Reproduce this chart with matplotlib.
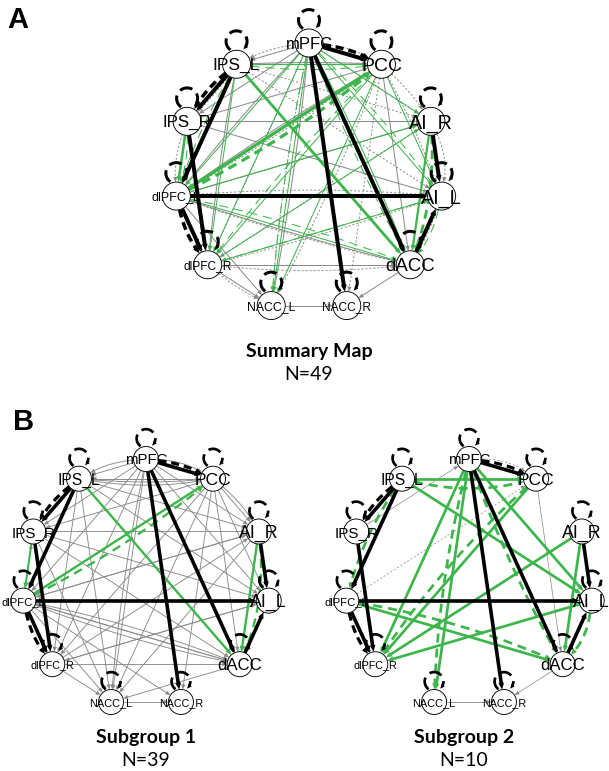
import numpy as np
import matplotlib.pyplot as plt
from matplotlib.patches import Circle, Polygon

plt.rcParams['font.family'] = ['Liberation Sans', 'DejaVu Sans']
plt.rcParams['lines.scale_dashes'] = False

PX = 0.72  # points per pixel (dpi 100)

nodes = ['mPFC', 'PCC', 'AI_R', 'AI_L', 'dACC', 'NACC_R', 'NACC_L',
         'dlPFC_R', 'dlPFC_L', 'IPS_R', 'IPS_L']
label_pt = [12.0, 14.0, 14.2, 14.2, 13.4, 8.6, 8.8, 8.6, 9.0, 12.2, 12.5]

# group-level paths (same in every map)
group_paths = [('mPFC', 'PCC'), ('IPS_L', 'dlPFC_L'), ('IPS_L', 'IPS_R'),
               ('IPS_R', 'dlPFC_R'), ('dlPFC_L', 'AI_L'), ('dlPFC_L', 'dlPFC_R'),
               ('mPFC', 'dACC'), ('mPFC', 'NACC_R'), ('AI_R', 'AI_L'), ('dACC', 'AI_L')]
group_lagged = [('mPFC', 'PCC', 0.08), ('IPS_L', 'IPS_R', 0.09), ('dlPFC_L', 'dlPFC_R', 0.10)]

# (source, target, width px, style, bend)
summary_green = [
    ('IPS_L', 'dACC', 2.8, '-', 0), ('dlPFC_L', 'PCC', 3.2, '-', 0),
    ('dlPFC_L', 'PCC', 3.2, '--', -0.05), ('IPS_R', 'dlPFC_L', 2.6, '-', 0),
    ('AI_R', 'dACC', 2.2, '-', 0), ('AI_R', 'dACC', 2.8, '--', 0.1),
    ('mPFC', 'dlPFC_L', 1, '-', 0), ('mPFC', 'dlPFC_R', 1, '-', 0),
    ('mPFC', 'NACC_L', 1, '-', 0), ('mPFC', 'AI_L', 1, '-', 0),
    ('mPFC', 'AI_R', 1, '-', 0), ('mPFC', 'dACC', 1, '-', 0.03),
    ('PCC', 'dlPFC_R', 1, '-', 0), ('PCC', 'NACC_L', 1, '-', 0),
    ('IPS_L', 'PCC', 1.2, '-', 0), ('dlPFC_L', 'dACC', 1, '-', 0),
    ('dlPFC_L', 'AI_R', 1, '-', 0), ('dlPFC_R', 'AI_R', 1, '-', 0),
    ('AI_L', 'dlPFC_R', 1, '-', 0), ('IPS_L', 'dlPFC_R', 1, '-', 0),
    ('PCC', 'AI_L', 1, '-', 0),
    ('mPFC', 'dACC', 1, '--', -0.03), ('dlPFC_L', 'dACC', 1, '--', -0.04),
    ('AI_L', 'dACC', 1, '--', 0.1), ('IPS_L', 'PCC', 1, '--', -0.06),
    ('IPS_R', 'dlPFC_L', 1, '--', -0.08), ('dlPFC_R', 'AI_L', 1, '--', 0),
    ('IPS_L', 'dlPFC_L', 1, '--', 0.05), ('PCC', 'dlPFC_R', 1, '--', 0.03),
    ('mPFC', 'AI_L', 1, '--', 0.04), ('mPFC', 'NACC_L', 1, '--', 0.03)]
summary_gray = [
    ('mPFC', 'IPS_L', 1, '-', 0), ('IPS_L', 'PCC', 1, '-', 0.02),
    ('IPS_R', 'AI_R', 1, '-', 0), ('IPS_R', 'PCC', 1, '-', 0),
    ('dlPFC_L', 'AI_R', 1, '-', 0), ('dlPFC_L', 'dACC', 1, '-', 0.02),
    ('dlPFC_R', 'dACC', 1, '-', 0), ('NACC_L', 'NACC_R', 1, '-', 0),
    ('dACC', 'NACC_R', 1, '-', 0), ('dlPFC_R', 'NACC_L', 1, '-', 0),
    ('dlPFC_L', 'NACC_L', 1, '-', 0), ('PCC', 'dACC', 1, '-', 0),
    ('mPFC', 'IPS_R', 1, '-', 0), ('IPS_L', 'dlPFC_R', 1, '-', 0.02),
    ('mPFC', 'NACC_L', 1, '-', -0.02), ('IPS_R', 'AI_L', 1, '-', 0),
    ('PCC', 'dlPFC_L', 1, '-', 0.02), ('mPFC', 'dlPFC_L', 1, '-', 0.02),
    ('mPFC', 'PCC', 1, ':', 0.1), ('PCC', 'AI_R', 1, ':', 0.05),
    ('AI_R', 'AI_L', 1, ':', 0.15), ('AI_L', 'dACC', 1, ':', 0.05),
    ('mPFC', 'IPS_L', 1, ':', 0.08), ('IPS_L', 'IPS_R', 1, ':', -0.05),
    ('dlPFC_R', 'NACC_L', 1, ':', 0.05), ('PCC', 'dlPFC_L', 1, ':', -0.02),
    ('mPFC', 'NACC_L', 1, ':', 0.03), ('dlPFC_L', 'AI_L', 1, ':', -0.04),
    ('dlPFC_R', 'AI_L', 1, ':', 0.02), ('AI_R', 'dlPFC_R', 1, ':', 0),
    ('PCC', 'NACC_R', 1, ':', 0), ('IPS_L', 'AI_R', 1, ':', 0),
    ('mPFC', 'AI_R', 1, ':', 0), ('PCC', 'AI_L', 1, ':', 0.03),
    ('IPS_L', 'AI_L', 1, ':', 0), ('dACC', 'dlPFC_L', 1, ':', 0.03),
    ('PCC', 'NACC_L', 1, ':', 0.03), ('IPS_R', 'dlPFC_L', 1, ':', 0.1),
    ('mPFC', 'dlPFC_R', 1, ':', 0), ('dlPFC_R', 'dACC', 1, ':', 0.05)]

sub1_green = [
    ('IPS_L', 'dACC', 2.6, '-', 0), ('dlPFC_L', 'PCC', 2.6, '-', 0),
    ('dlPFC_L', 'PCC', 2.6, '--', -0.05), ('IPS_R', 'dlPFC_L', 2.2, '-', 0),
    ('AI_R', 'dACC', 2.6, '-', 0), ('AI_R', 'dACC', 2.6, '--', 0.12)]
sub1_gray = [(a, b, 1, '-', 0) for a, b in [
    ('mPFC', 'IPS_L'), ('mPFC', 'IPS_R'), ('mPFC', 'dlPFC_L'), ('mPFC', 'dlPFC_R'),
    ('mPFC', 'NACC_L'), ('mPFC', 'AI_R'), ('mPFC', 'AI_L'), ('PCC', 'IPS_L'),
    ('PCC', 'IPS_R'), ('PCC', 'dlPFC_L'), ('PCC', 'dlPFC_R'), ('PCC', 'NACC_L'),
    ('PCC', 'dACC'), ('PCC', 'AI_R'), ('PCC', 'AI_L'), ('IPS_L', 'AI_R'),
    ('IPS_L', 'AI_L'), ('IPS_L', 'dlPFC_R'), ('IPS_L', 'NACC_L'), ('IPS_R', 'AI_R'),
    ('IPS_R', 'AI_L'), ('IPS_R', 'dACC'), ('dlPFC_L', 'AI_R'), ('dlPFC_L', 'dACC'),
    ('dlPFC_L', 'NACC_L'), ('dlPFC_L', 'NACC_R'), ('AI_L', 'dlPFC_L'),
    ('dlPFC_R', 'dACC'), ('dlPFC_R', 'NACC_L'), ('dlPFC_R', 'AI_R'), ('dlPFC_R', 'AI_L'),
    ('NACC_L', 'NACC_R'), ('dACC', 'NACC_L'), ('AI_R', 'NACC_L'), ('AI_R', 'dlPFC_L'),
    ('AI_L', 'dlPFC_R'), ('dACC', 'dlPFC_L'), ('PCC', 'NACC_R'), ('IPS_R', 'NACC_L'),
    ('mPFC', 'dACC'), ('IPS_L', 'PCC'), ('IPS_R', 'dlPFC_L'), ('AI_R', 'dACC'),
    ('AI_L', 'dACC'), ('dlPFC_L', 'IPS_R')]] + [
    ('IPS_L', 'PCC', 1, '-', -0.04), ('mPFC', 'NACC_L', 1, '-', 0.03),
    ('dlPFC_L', 'dACC', 1, '-', 0.04), ('mPFC', 'PCC', 1, '-', 0.12),
    ('mPFC', 'IPS_L', 1, '-', 0.1), ('PCC', 'AI_R', 1, '-', 0.08),
    ('dlPFC_L', 'dACC', 1, '-', -0.04), ('IPS_L', 'PCC', 1, '-', -0.08)]

sub2_green = [
    ('IPS_L', 'PCC', 3, '-', 0), ('IPS_L', 'AI_L', 3, '-', 0),
    ('IPS_L', 'dlPFC_L', 3, '-', 0), ('mPFC', 'dlPFC_R', 3, '-', 0),
    ('mPFC', 'NACC_L', 3, '-', 0), ('mPFC', 'AI_L', 3, '-', 0),
    ('PCC', 'dlPFC_R', 3, '-', 0), ('AI_R', 'dlPFC_R', 3, '-', 0),
    ('AI_L', 'dlPFC_R', 3, '-', 0), ('dlPFC_L', 'dACC', 3, '-', 0),
    ('AI_R', 'dACC', 3, '-', 0),
    ('IPS_L', 'PCC', 3, '--', -0.12), ('IPS_L', 'dlPFC_L', 3, '--', 0.08),
    ('mPFC', 'NACC_L', 3, '--', 0.05), ('mPFC', 'dACC', 3, '--', -0.04),
    ('dlPFC_L', 'dACC', 3, '--', -0.06), ('AI_L', 'dACC', 3, '--', 0.15),
    ('PCC', 'dlPFC_R', 3, '--', 0.06)]
sub2_gray = [
    ('mPFC', 'PCC', 0.8, ':', 0.15), ('IPS_R', 'mPFC', 0.8, '-', 0),
    ('dlPFC_L', 'PCC', 0.8, ':', 0), ('PCC', 'dACC', 0.8, '-', 0),
    ('AI_L', 'dlPFC_R', 0.8, ':', 0), ('dACC', 'NACC_R', 0.8, '-', 0),
    ('NACC_L', 'NACC_R', 1, '-', 0)]

GREEN = '#3cb54a'
GRAY = '#8a8a8a'


def layout(cx, cy, R):
    ang = np.deg2rad(90 - np.arange(len(nodes)) * 360 / len(nodes))
    return {n: np.array([cx + R * np.cos(a), cy - R * np.sin(a)]) for n, a in zip(nodes, ang)}


def head(ax, tip, u, lw, color, z):
    hl = 4.5 + 0.6 * lw
    hw = 0.42 * hl
    n = np.array([-u[1], u[0]])
    base = tip - u * hl
    ax.add_patch(Polygon([tip, base + n * hw, base - n * hw], closed=True,
                         fc=color, ec='none', zorder=z))
    return hl


def edge(ax, pos, center, rn, a, b, color, lw, style, bend, z):
    p0, p1 = pos[a], pos[b]
    d = p1 - p0
    L = np.hypot(*d)
    nrm = np.array([-d[1], d[0]]) / L
    mid = (p0 + p1) / 2
    if np.dot(mid - center, nrm) < 0:
        nrm = -nrm
    ctrl = mid + nrm * bend * L
    s = p0 + rn * (ctrl - p0) / np.linalg.norm(ctrl - p0)
    u = (p1 - ctrl) / np.linalg.norm(p1 - ctrl)
    e = p1 - rn * u
    hl = head(ax, e, u, lw, color, z)
    e2 = e - u * hl * 0.7
    t = np.linspace(0, 1, 40)[:, None]
    pts = (1 - t) ** 2 * s + 2 * (1 - t) * t * ctrl + t ** 2 * e2
    kw = dict(color=color, lw=lw * PX, zorder=z, solid_capstyle='butt')
    if style == '--':
        kw['dashes'] = (9 * PX, 6 * PX) if color == GREEN else (8 * PX, 5 * PX)
    elif style == ':':
        kw['dashes'] = (2 * PX, 2 * PX)
    ax.plot(pts[:, 0], pts[:, 1], **kw)


def loop(ax, p, rn, lw, z):
    rl = 0.75 * rn
    c = p + np.array([0, -(rn + 0.85 * rl)])
    phi = np.deg2rad(np.linspace(235, -50, 60))
    pts = c + rl * np.c_[np.cos(phi), -np.sin(phi)]
    ax.plot(pts[:-4, 0], pts[:-4, 1], color='black', lw=lw * PX,
            dashes=(13 * PX, 6 * PX), zorder=z)
    u = pts[-1] - pts[-4]
    u = u / np.linalg.norm(u)
    head(ax, pts[-1], u, 0.5, 'black', z)


def network(ax, cx, cy, R, rn, scale, green, gray):
    pos = layout(cx, cy, R)
    center = np.array([cx, cy])
    for a, b, lw, st, bend in gray:
        edge(ax, pos, center, rn, a, b, GRAY, lw * scale, st, bend, 2)
    for a, b, lw, st, bend in green:
        edge(ax, pos, center, rn, a, b, GREEN, lw * scale, st, bend, 3)
    for a, b in group_paths:
        edge(ax, pos, center, rn, a, b, 'black', 4 * scale, '-', 0, 4)
    for a, b, bend in group_lagged:
        edge(ax, pos, center, rn, a, b, 'black', 3.5 * scale, '--', bend, 4)
    for n in nodes:
        loop(ax, pos[n], rn, 3 * scale, 4)
    for n, fs in zip(nodes, label_pt):
        ax.add_patch(Circle(pos[n], rn, fc='white', ec='black', lw=0.9 * PX, zorder=5))
        ax.text(pos[n][0], pos[n][1], n, fontsize=fs * scale, ha='center',
                va='center_baseline', zorder=6)


fig = plt.figure(figsize=(6.09, 7.71), dpi=100)
ax = fig.add_axes([0, 0, 1, 1])
ax.set_xlim(0, 609)
ax.set_ylim(771, 0)
ax.axis('off')

network(ax, 309, 177, 134, 14, 1.0, summary_green, summary_gray)
network(ax, 146, 583, 124, 12.5, 0.9, sub1_green, sub1_gray)
network(ax, 469, 583, 124, 12.5, 0.9, sub2_green, sub2_gray)

ax.text(18, 20, 'A', fontsize=21, fontweight='bold', ha='center', va='center')
ax.text(24, 422, 'B', fontsize=21, fontweight='bold', ha='center', va='center')

cap = ['Summary Map', 'Subgroup 1', 'Subgroup 2']
ns = ['N=49', 'N=39', 'N=10']
for x, y, t, n in zip([309, 146, 464], [352, 738, 738], cap, ns):
    ax.text(x, y, t, fontsize=14, fontweight='bold', family='Lato', ha='center', va='center')
    ax.text(x, y + 23, n, fontsize=14, family='Lato', ha='center', va='center')

fig.savefig('out.png', dpi=100)
